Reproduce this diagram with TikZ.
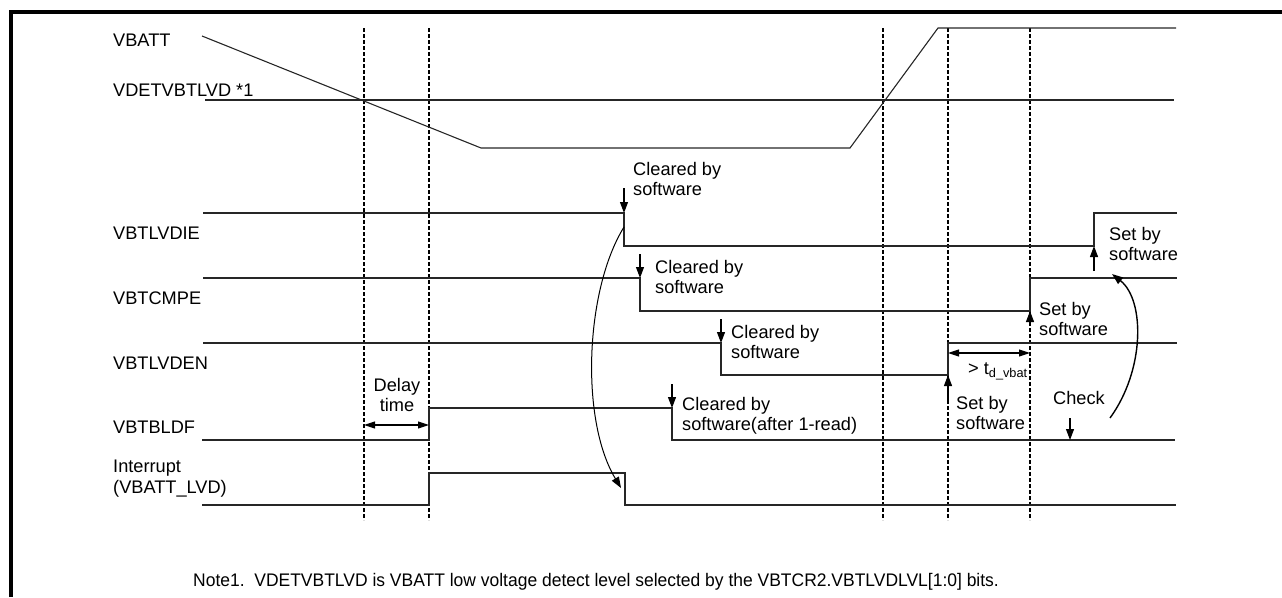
\documentclass[tikz,border=0pt]{standalone}
\usepackage{fontspec}
\setmainfont{Liberation Sans}
\usetikzlibrary{arrows.meta}
\tikzset{
  sig/.style={line width=1.1pt, draw=black!85},
  guide/.style={line width=1.1pt, dash pattern=on 4pt off 2pt},
  tip/.style={-{Triangle[length=11pt,width=8pt]}, line width=1.1pt},
  twoway/.style={{Triangle[length=11pt,width=7pt]}-{Triangle[length=11pt,width=7pt]}, line width=1.1pt},
  txt/.style={font=\fontsize{18.2}{20.5}\selectfont, inner sep=0pt},
  lbl/.style={txt, anchor=base west},
  mlbl/.style={txt, anchor=north west, align=left},
}
\begin{document}
\begin{tikzpicture}[x=1pt,y=-1pt]
\useasboundingbox (0,0) rectangle (1282,597);
% frame
\draw[line width=3.5pt] (11,597) -- (11,12) -- (1282,12);
% dashed guides
\foreach \gx/\gn in {364/ga,429/gb,883/gc,948/gd,1030/ge}{
  \coordinate (\gn top) at (\gx,28);
  \coordinate (\gn bot) at (\gx,520);
  \draw[guide] (\gn top) -- (\gn bot);
}
% signal names
\node[lbl] (nVBATT) at (113,46) {VBATT};
\node[lbl] (nVDET) at (113,96) {VDETVBTLVD *1};
\node[lbl] (nIE) at (113,239) {VBTLVDIE};
\node[lbl] (nCMPE) at (113,304) {VBTCMPE};
\node[lbl] (nEN) at (113,369) {VBTLVDEN};
\node[lbl] (nBLDF) at (113,433) {VBTBLDF};
\node[mlbl] (nINT) at (113,460) {Interrupt\\(VBATT\_LVD)};
% waveforms
\draw[sig] (202,36) -- (481,148) -- (850,148) -- (938,28) -- (1176,28);
\draw[sig] (205,100) -- (1174,100);
\draw[sig] (203,213) -- (624,213) -- (624,246) -- (1094,246) -- (1094,213) -- (1177,213);
\draw[sig] (203,278) -- (640,278) -- (640,311) -- (1030,311) -- (1030,278) -- (1177,278);
\draw[sig] (203,343) -- (721,343) -- (721,375) -- (948,375) -- (948,343) -- (1177,343);
\draw[sig] (202,440) -- (429,440) -- (429,408) -- (672,408) -- (672,440) -- (1175,440);
\draw[sig] (202,505) -- (429,505) -- (429,473) -- (625,473) -- (625,505) -- (1176,505);
% cleared by software
\node[mlbl] (c1) at (633,162) {Cleared by\\software};
\node[mlbl] (c2) at (655,260) {Cleared by\\software};
\node[mlbl] (c3) at (731,325) {Cleared by\\software};
\node[mlbl] (c4) at (682,397) {Cleared by\\software(after 1-read)};
\coordinate (c1s) at (624,188); \coordinate (c1e) at (624,213);
\coordinate (c2s) at (640,254); \coordinate (c2e) at (640,278);
\coordinate (c3s) at (721,319); \coordinate (c3e) at (721,343);
\coordinate (c4s) at (672,384); \coordinate (c4e) at (672,408);
\draw[tip] (c1s) -- (c1e);
\draw[tip] (c2s) -- (c2e);
\draw[tip] (c3s) -- (c3e);
\draw[tip] (c4s) -- (c4e);
% set by software
\node[mlbl] (s1) at (956,396) {Set by\\software};
\node[mlbl] (s2) at (1039,302) {Set by\\software};
\node[mlbl] (s3) at (1109,227) {Set by\\software};
\coordinate (s1s) at (948,400); \coordinate (s1e) at (948,375);
\coordinate (s2s) at (1030,324); \coordinate (s2e) at (1030,311);
\coordinate (s3s) at (1094,271); \coordinate (s3e) at (1094,246);
\draw[tip] (s1s) -- (s1e);
\draw[tip] (s2s) -- (s2e);
\draw[tip] (s3s) -- (s3e);
% delay time
\node[txt, anchor=north, align=center] (delay) at (397,378) {Delay\\time};
\coordinate (dl) at (364,425); \coordinate (dr) at (429,425);
\draw[twoway] (dl) -- (dr);
% t_d_vbat
\coordinate (tl) at (948,353); \coordinate (tr) at (1030,353);
\draw[twoway] (tl) -- (tr);
\node[lbl] (tdv) at (968,374) {> t\textsubscript{d\_vbat}};
% check
\node[lbl] (chk) at (1053,404) {Check};
\coordinate (ks) at (1070,418); \coordinate (ke) at (1070,440);
\draw[tip] (ks) -- (ke);
\coordinate (cks) at (1110,418); \coordinate (cke) at (1112,274);
\draw[tip, line width=1.4pt] (cks) .. controls (1145,370) and (1145,300) .. (cke);
% interrupt clear curve
\coordinate (ics) at (624,227); \coordinate (ice) at (621,488);
\draw[tip, line width=1pt] (ics) .. controls (585,290) and (580,420) .. (ice);
% note
\node[lbl] (note) at (193,586) {\scalebox{0.96}[1]{Note1.\ \ VDETVBTLVD is VBATT low voltage detect level selected by the VBTCR2.VBTLVDLVL[1:0] bits.}};
\end{tikzpicture}
\end{document}
